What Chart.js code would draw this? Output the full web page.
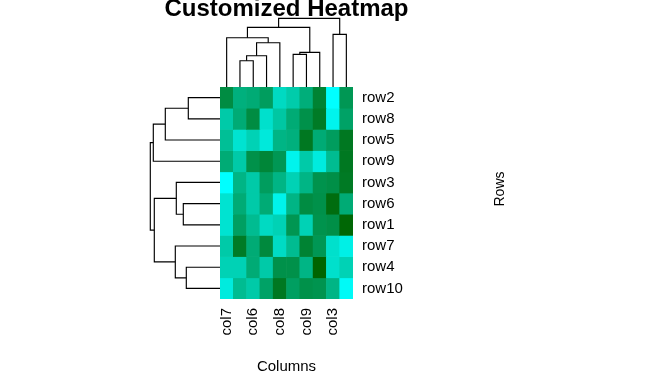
<!DOCTYPE html>
<html><head><meta charset="utf-8">
<script src="https://cdn.jsdelivr.net/npm/chart.js@4.4.0/dist/chart.umd.min.js"></script>
<style>
html,body{margin:0;padding:0;background:#fff;}
#wrap{position:relative;width:661px;height:380px;overflow:hidden;}
#wrap canvas{position:absolute;left:0;top:0;}
</style></head><body>
<div id="wrap">
<canvas id="heat" width="661" height="380"></canvas>
<canvas id="colDen" width="661" height="380"></canvas>
<canvas id="rowDen" width="661" height="380"></canvas>
</div>
<script>
// ---- data ----
const rowLabels = ['row2','row8','row5','row9','row3','row6','row1','row7','row4','row10'];
const colLabels = ['col7','col2','col6','col10','col8','col4','col9','col1','col3','col5'];
const shownColLabels = ['col7','col6','col8','col9','col3'];

const row2Vals  = [0.26,0.49,0.46,0.37,0.76,0.67,0.48,0.20,1.00,0.33];
const row8Vals  = [0.66,0.46,0.26,0.80,0.64,0.46,0.29,0.15,0.93,0.40];
const row5Vals  = [0.59,0.82,0.71,0.86,0.52,0.49,0.13,0.46,0.37,0.13];
const row9Vals  = [0.46,0.66,0.29,0.22,0.33,0.93,0.66,0.87,0.57,0.13];
const row3Vals  = [1.00,0.52,0.66,0.37,0.52,0.71,0.52,0.30,0.28,0.14];
const row6Vals  = [0.82,0.46,0.66,0.46,0.92,0.52,0.26,0.29,0.06,0.46];
const row1Vals  = [0.82,0.38,0.57,0.76,0.71,0.32,0.71,0.30,0.28,0.02];
const row7Vals  = [0.66,0.15,0.46,0.24,0.77,0.57,0.20,0.33,0.80,0.90];
const row4Vals  = [0.71,0.71,0.46,0.66,0.29,0.29,0.52,0.00,0.80,0.71];
const row10Vals = [0.87,0.57,0.66,0.40,0.13,0.38,0.29,0.31,0.52,0.97];
const cellValues = [row2Vals,row8Vals,row5Vals,row9Vals,row3Vals,row6Vals,row1Vals,row7Vals,row4Vals,row10Vals];

// dendrogram merges: [a, b, height]; negative = leaf at position (-a-1), positive = earlier merge (1-based)
const colMerges = [[-2,-3,2.63],[1,-4,3.13],[2,-5,4.43],[-1,3,4.93],[-6,-7,3.27],[5,-8,3.47],[4,6,5.97],[-9,-10,5.27],[7,8,6.87]];
const rowMerges = [[-1,-2,3.17],[1,-3,5.47],[2,-4,6.67],[-6,-7,3.67],[-5,4,4.37],[-9,-10,3.37],[-8,6,4.47],[5,7,6.57],[3,8,6.97]];

// ---- helpers ----
const FONT = 'Liberation Sans';
function valueColor(v){
  const lo=[0,100,0], hi=[0,255,255];
  const c = lo.map((l,i)=>Math.round(l+(hi[i]-l)*v));
  return `rgb(${c[0]},${c[1]},${c[2]})`;
}
function dendroSegments(merges, horizontal){
  const centers = [];
  const node = k => k<0 ? {p:-k-1+0.5,h:0} : {p:centers[k-1],h:merges[k-1][2]};
  return merges.map(([a,b,h])=>{
    const A=node(a), B=node(b);
    centers.push((A.p+B.p)/2);
    const pts=[[A.p,A.h],[A.p,h],[B.p,h],[B.p,B.h]];
    return pts.map(([p,hh])=> horizontal ? {x:p,y:hh} : {x:hh,y:p});
  });
}
function lineDatasets(segs){
  return segs.map(s=>({data:s,showLine:true,pointRadius:0,borderColor:'#000',borderWidth:1.15,tension:0,clip:false,fill:false}));
}

// ---- heatmap ----
const rowsTitle = {
  id:'rowsTitle',
  afterDraw(chart){
    const {ctx, chartArea} = chart;
    const ys = chart.scales.y;
    ctx.save();
    ctx.translate(ys.right-161,(chartArea.top+chartArea.bottom)/2-4);
    ctx.rotate(-Math.PI/2);
    ctx.font = `14px "${FONT}"`;
    ctx.fillStyle='#000'; ctx.textAlign='center'; ctx.textBaseline='middle';
    ctx.fillText('Rows',0,0);
    ctx.restore();
  }
};

new Chart(document.getElementById('heat'),{
  type:'bar',
  data:{
    labels:colLabels,
    datasets:rowLabels.map((r,i)=>({
      label:r,
      data:colLabels.map(()=>1),
      backgroundColor:cellValues[i].map(valueColor),
      borderWidth:0,
      categoryPercentage:1,
      barPercentage:1,
      stack:'s'
    }))
  },
  options:{
    responsive:false, animation:false,
    layout:{padding:{left:220,right:0,top:87,bottom:0}},
    plugins:{legend:{display:false}, tooltip:{enabled:false}},
    scales:{
      x:{stacked:true,offset:true,grid:{display:false,drawTicks:false},border:{display:false},
        ticks:{autoSkip:false,minRotation:90,maxRotation:90,padding:9,color:'#000',
          font:{family:FONT,size:15},
          callback:(v,i)=> shownColLabels.includes(colLabels[i]) ? colLabels[i] : ''},
        title:{display:true,text:'Columns',color:'#000',font:{family:FONT,size:15},padding:{top:0,bottom:4}},
        afterFit:s=>{s.height=81;}
      },
      y:{stacked:true,position:'right',reverse:true,min:0,max:10,
        grid:{display:false,drawTicks:false},border:{display:false},
        afterBuildTicks:s=>{s.ticks=rowLabels.map((_,i)=>({value:i+0.5}));},
        ticks:{autoSkip:false,padding:9,color:'#000',font:{family:FONT,size:15},
          callback:(v,i)=>rowLabels[i]},
        afterFit:s=>{s.width=308;}
      }
    }
  },
  plugins:[rowsTitle]
});

// ---- column dendrogram (with main title) ----
new Chart(document.getElementById('colDen'),{
  type:'scatter',
  data:{datasets:lineDatasets(dendroSegments(colMerges,true))},
  options:{
    responsive:false, animation:false,
    layout:{padding:{left:153.5,right:241.5,top:0,bottom:293}},
    plugins:{
      legend:{display:false},tooltip:{enabled:false},
      title:{display:true,text:'Customized Heatmap',fullSize:false,color:'#000',
        font:{family:FONT,size:24,weight:'bold',lineHeight:0.75},padding:{top:0,bottom:0.3}}
    },
    scales:{
      x:{type:'linear',min:-5,max:15,display:false},
      y:{type:'linear',min:0,max:6.87,display:false}
    }
  }
});

// ---- row dendrogram ----
new Chart(document.getElementById('rowDen'),{
  type:'scatter',
  data:{datasets:lineDatasets(dendroSegments(rowMerges,false))},
  options:{
    responsive:false, animation:false,
    layout:{padding:{left:150.3,right:441,top:87,bottom:81}},
    plugins:{legend:{display:false},tooltip:{enabled:false}},
    scales:{
      x:{type:'linear',min:0,max:6.97,reverse:true,display:false},
      y:{type:'linear',min:0,max:10,reverse:true,display:false}
    }
  }
});
</script>
</body></html>
